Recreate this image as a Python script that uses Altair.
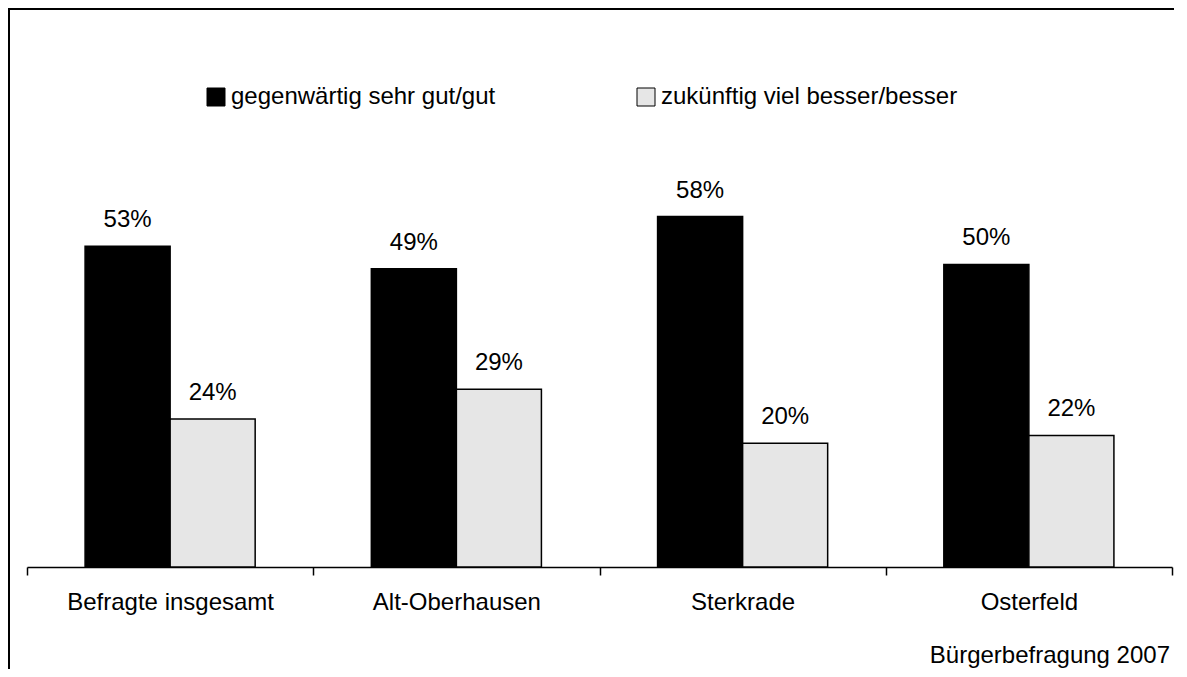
import altair as alt
import pandas as pd

categories = ["Befragte insgesamt", "Alt-Oberhausen", "Sterkrade", "Osterfeld"]
series = ["gegenwärtig sehr gut/gut", "zukünftig viel besser/besser"]
current_values = [52.9, 49.2, 57.8, 49.9]
future_values = [24.4, 29.3, 20.4, 21.7]
current_labels = ["53%", "49%", "58%", "50%"]
future_labels = ["24%", "29%", "20%", "22%"]
source_note = ["Bürgerbefragung 2007"]

rows = []
for c, v, l in zip(categories, current_values, current_labels):
    rows.append({"cat": c, "series": series[0], "value": v, "label": l})
for c, v, l in zip(categories, future_values, future_labels):
    rows.append({"cat": c, "series": series[1], "value": v, "label": l})
df = pd.DataFrame(rows)

FONT = "Liberation Sans"
FS = 24
W, H = 1145, 485

x_enc = alt.X(
    "cat:N",
    sort=categories,
    scale=alt.Scale(paddingInner=0, paddingOuter=0),
    axis=alt.Axis(
        title=None,
        labelAngle=0,
        labelFont=FONT,
        labelFontSize=FS,
        labelColor="black",
        labelPadding=15,
        labelLimit=400,
        domainColor="black",
        domainWidth=1.5,
        tickColor="black",
        tickWidth=1.5,
        tickSize=8,
        tickBand="extent",
        grid=False,
    ),
)
xoff_enc = alt.XOffset(
    "series:N", sort=series, scale=alt.Scale(paddingInner=0, paddingOuter=0.683)
)
y_enc = alt.Y("value:Q", scale=alt.Scale(domain=[0, 80], nice=False, zero=True), axis=None)

bars = alt.Chart(df).mark_bar(stroke="black", strokeWidth=1.5).encode(
    x=x_enc,
    xOffset=xoff_enc,
    y=y_enc,
    fill=alt.Fill(
        "series:N",
        sort=series,
        scale=alt.Scale(domain=series, range=["#000000", "#e6e6e6"]),
        legend=alt.Legend(
            title=None,
            orient="none",
            legendX=177,
            legendY=3,
            direction="horizontal",
            symbolType="square",
            symbolSize=324,
            symbolStrokeColor="black",
            symbolStrokeWidth=1,
            labelFont=FONT,
            labelFontSize=FS,
            labelColor="black",
            labelOffset=3,
            labelLimit=400,
            columnPadding=138,
            padding=0,
        ),
    ),
)

labels = alt.Chart(df).mark_text(
    baseline="alphabetic", align="center", dy=-19, font=FONT, fontSize=FS, color="black"
).encode(x=x_enc, xOffset=xoff_enc, y=y_enc, text="label:N")

note = alt.Chart(pd.DataFrame({"note": source_note})).mark_text(
    align="right", baseline="alphabetic", font=FONT, fontSize=FS, color="black"
).encode(x=alt.value(1143), y=alt.value(581), text="note:N")

frame_df = pd.DataFrame({"a": [0]})
frame_top = alt.Chart(frame_df).mark_rect(fill="black", stroke=None).encode(
    x=alt.value(-19), x2=alt.value(1147), y=alt.value(-74), y2=alt.value(-72)
)
frame_left = alt.Chart(frame_df).mark_rect(fill="black", stroke=None).encode(
    x=alt.value(-19), x2=alt.value(-17), y=alt.value(-74), y2=alt.value(587)
)

chart = (
    alt.layer(frame_top, frame_left, bars, labels, note)
    .properties(
        width=W,
        height=H,
        autosize=alt.AutoSizeParams(type="none"),
        padding={"left": 19, "top": 74, "right": 7, "bottom": 102},
    )
    .configure_view(stroke=None)
)

chart.save("out.html", embed_options={"renderer": "svg", "actions": False})
